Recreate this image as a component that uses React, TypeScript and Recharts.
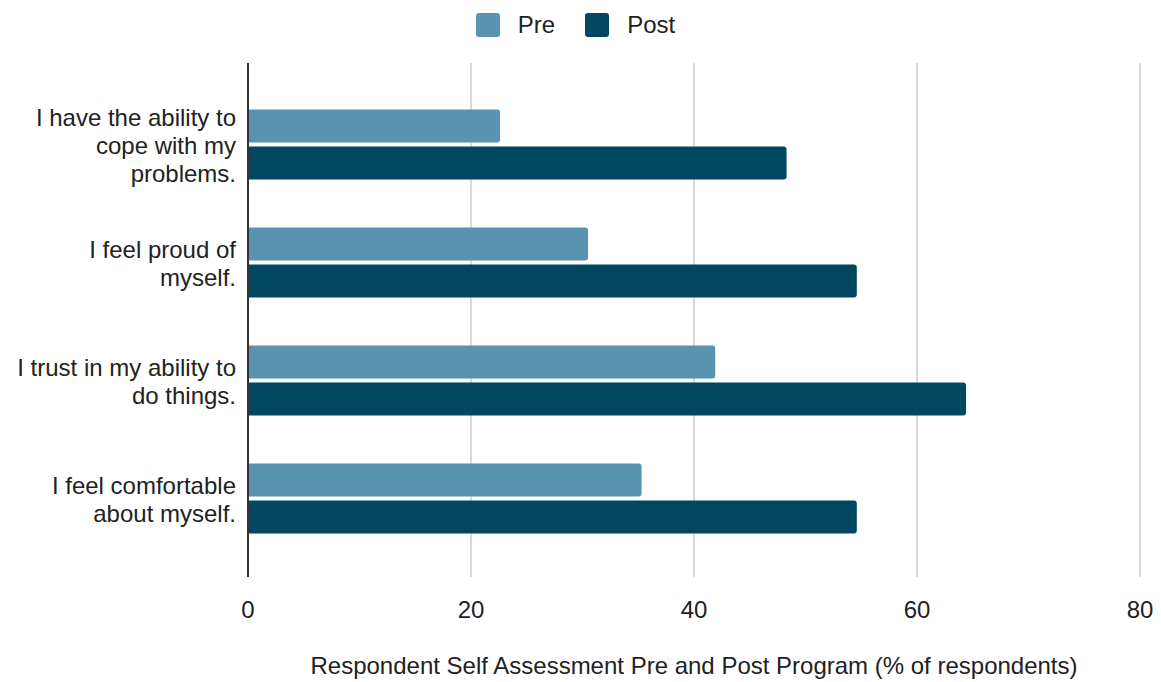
import {
  BarChart, Bar, XAxis, YAxis, CartesianGrid, Legend, Label,
} from 'recharts'

const categories = [
  'I have the ability to cope with my problems.',
  'I feel proud of myself.',
  'I trust in my ability to do things.',
  'I feel comfortable about myself.',
]
const categoryLines = [
  ['I have the ability to', 'cope with my', 'problems.'],
  ['I feel proud of', 'myself.'],
  ['I trust in my ability to', 'do things.'],
  ['I feel comfortable', 'about myself.'],
]
const preValues = [22.6, 30.5, 41.9, 35.3]
const postValues = [48.3, 54.6, 64.4, 54.6]
const xTicks = [0, 20, 40, 60, 80]

const PRE_COLOR = '#5a93b0'
const POST_COLOR = '#01475f'
const FONT = '"Liberation Sans", Arial, sans-serif'
const FS = 24

const data = categories.map((c, i) => ({ name: c, pre: preValues[i], post: postValues[i] }))

function CategoryTick({ x, y, payload }: any) {
  const idx = categories.indexOf(payload.value)
  const lines = categoryLines[idx] || [payload.value]
  const lh = 28
  const start = y - ((lines.length - 1) * lh) / 2
  return (
    <text x={x} y={start} textAnchor="end" fill="#222" fontSize={FS} fontFamily={FONT}>
      {lines.map((l, i) => (
        <tspan key={i} x={x} y={start + i * lh} dy="0.36em">{l}</tspan>
      ))}
    </text>
  )
}

function LegendBox() {
  const items = [
    { label: 'Pre', color: PRE_COLOR },
    { label: 'Post', color: POST_COLOR },
  ]
  return (
    <div style={{ height: 63, display: 'flex', justifyContent: 'center', alignItems: 'flex-start', paddingTop: 13, paddingRight: 10, boxSizing: 'border-box', gap: 30, fontFamily: FONT, fontSize: FS, color: '#222' }}>
      {items.map((it) => (
        <div key={it.label} style={{ display: 'flex', alignItems: 'center', gap: 18, height: 24 }}>
          <span style={{ width: 24, height: 24, borderRadius: 3, background: it.color, display: 'inline-block' }} />
          <span>{it.label}</span>
        </div>
      ))}
    </div>
  )
}

export default function App() {
  return (
    <div style={{ position: 'absolute', left: 0, top: 0, background: '#fff' }}>
      <BarChart
        width={1161}
        height={682}
        data={data}
        layout="vertical"
        margin={{ top: 0, right: 21, bottom: 0, left: 0 }}
        barCategoryGap="20%"
        barGap={4}
      >
        <CartesianGrid horizontal={false} stroke="#cccccc" strokeWidth={1.5} />
        <Legend verticalAlign="top" content={<LegendBox />} wrapperStyle={{ top: 0, left: 0, width: 1161 }} />
        <XAxis
          type="number"
          domain={[0, 80]}
          ticks={xTicks}
          axisLine={false}
          tickLine={false}
          tickMargin={18}
          height={105}
          tick={{ fill: '#222', fontSize: FS, fontFamily: FONT }}
        >
          <Label
            value="Respondent Self Assessment Pre and Post Program (% of respondents)"
            position="insideBottom"
            offset={8}
            style={{ fill: '#222', fontSize: FS, fontFamily: FONT }}
          />
        </XAxis>
        <YAxis
          type="category"
          dataKey="name"
          width={248}
          padding={{ top: 23, bottom: 19 }}
          axisLine={{ stroke: '#333', strokeWidth: 2 }}
          tickLine={false}
          tickSize={0}
          tickMargin={12}
          tick={<CategoryTick />}
          interval={0}
        />
        <Bar dataKey="pre" name="Pre" fill={PRE_COLOR} radius={[0, 3, 3, 0]} isAnimationActive={false} />
        <Bar dataKey="post" name="Post" fill={POST_COLOR} radius={[0, 3, 3, 0]} isAnimationActive={false} />
      </BarChart>
    </div>
  )
}
